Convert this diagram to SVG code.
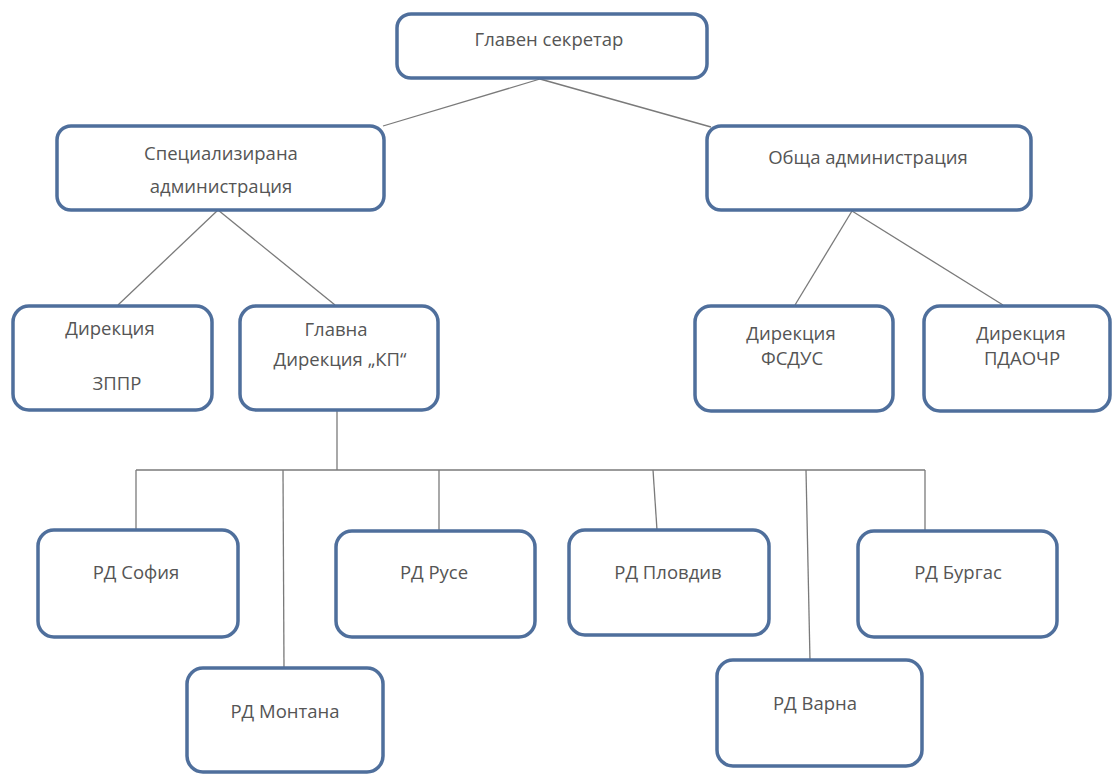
<svg xmlns="http://www.w3.org/2000/svg" width="1114" height="774" viewBox="0 0 1114 774">
<style>
.box{fill:#fff;stroke:#4f6f9c;stroke-width:3.5}
.t{font-family:"Open Sans","Noto Sans",sans-serif;font-size:18.5px;fill:#555;text-anchor:middle}
.c{stroke:#7a7a7a;stroke-width:1.3;fill:none}
</style>
<rect width="1114" height="774" fill="#fff"/>
<g id="connectors">
<line class="c" x1="540" y1="79" x2="383" y2="126"/>
<line class="c" x1="540" y1="79" x2="711" y2="127"/>
<line class="c" x1="218" y1="210" x2="118" y2="305"/>
<line class="c" x1="218" y1="210" x2="335" y2="305"/>
<line class="c" x1="852" y1="211" x2="795" y2="305"/>
<line class="c" x1="852" y1="211" x2="1003" y2="305"/>
<line class="c" x1="337" y1="411" x2="337" y2="470"/>
<line class="c" x1="136" y1="470" x2="925" y2="470"/>
<line class="c" x1="136" y1="470" x2="136" y2="530"/>
<line class="c" x1="283" y1="470" x2="284" y2="668"/>
<line class="c" x1="439" y1="470" x2="439" y2="531"/>
<line class="c" x1="653" y1="470" x2="657" y2="530"/>
<line class="c" x1="806" y1="470" x2="810" y2="660"/>
<line class="c" x1="925" y1="470" x2="925" y2="531"/>
</g>
<g id="glaven"><rect class="box" x="397" y="14" width="310" height="64" rx="14"/><text class="t" x="549" y="46">Главен секретар</text></g>
<g id="spec"><rect class="box" x="57" y="126" width="327" height="84" rx="14"/><text class="t" x="221" y="160">Специализирана</text><text class="t" x="221" y="193">администрация</text></g>
<g id="obsta"><rect class="box" x="707" y="126" width="324" height="84" rx="14"/><text class="t" x="868" y="164">Обща администрация</text></g>
<g id="zppr"><rect class="box" x="13" y="306" width="199" height="104" rx="16"/><text class="t" x="110" y="335">Дирекция</text><text class="t" x="117" y="390">ЗППР</text></g>
<g id="kp"><rect class="box" x="240" y="306" width="198" height="104" rx="16"/><text class="t" x="336" y="336">Главна</text><text class="t" x="340" y="366">Дирекция „КП“</text></g>
<g id="fsdus"><rect class="box" x="695" y="306" width="198" height="105" rx="16"/><text class="t" x="791" y="340">Дирекция</text><text class="t" x="792" y="365">ФСДУС</text></g>
<g id="pdaochr"><rect class="box" x="924" y="306" width="186" height="105" rx="16"/><text class="t" x="1021" y="340">Дирекция</text><text class="t" x="1022" y="365">ПДАОЧР</text></g>
<g id="sofia"><rect class="box" x="38" y="530" width="200" height="107" rx="16"/><text class="t" x="136" y="579">РД София</text></g>
<g id="ruse"><rect class="box" x="336" y="531" width="199" height="106" rx="16"/><text class="t" x="434" y="579">РД Русе</text></g>
<g id="plovdiv"><rect class="box" x="569" y="530" width="200" height="105" rx="16"/><text class="t" x="668" y="579">РД Пловдив</text></g>
<g id="burgas"><rect class="box" x="858" y="531" width="199" height="106" rx="16"/><text class="t" x="958" y="579">РД Бургас</text></g>
<g id="montana"><rect class="box" x="187" y="668" width="196" height="104" rx="16"/><text class="t" x="285" y="718">РД Монтана</text></g>
<g id="varna"><rect class="box" x="717" y="660" width="205" height="106" rx="16"/><text class="t" x="815" y="710">РД Варна</text></g>
</svg>
